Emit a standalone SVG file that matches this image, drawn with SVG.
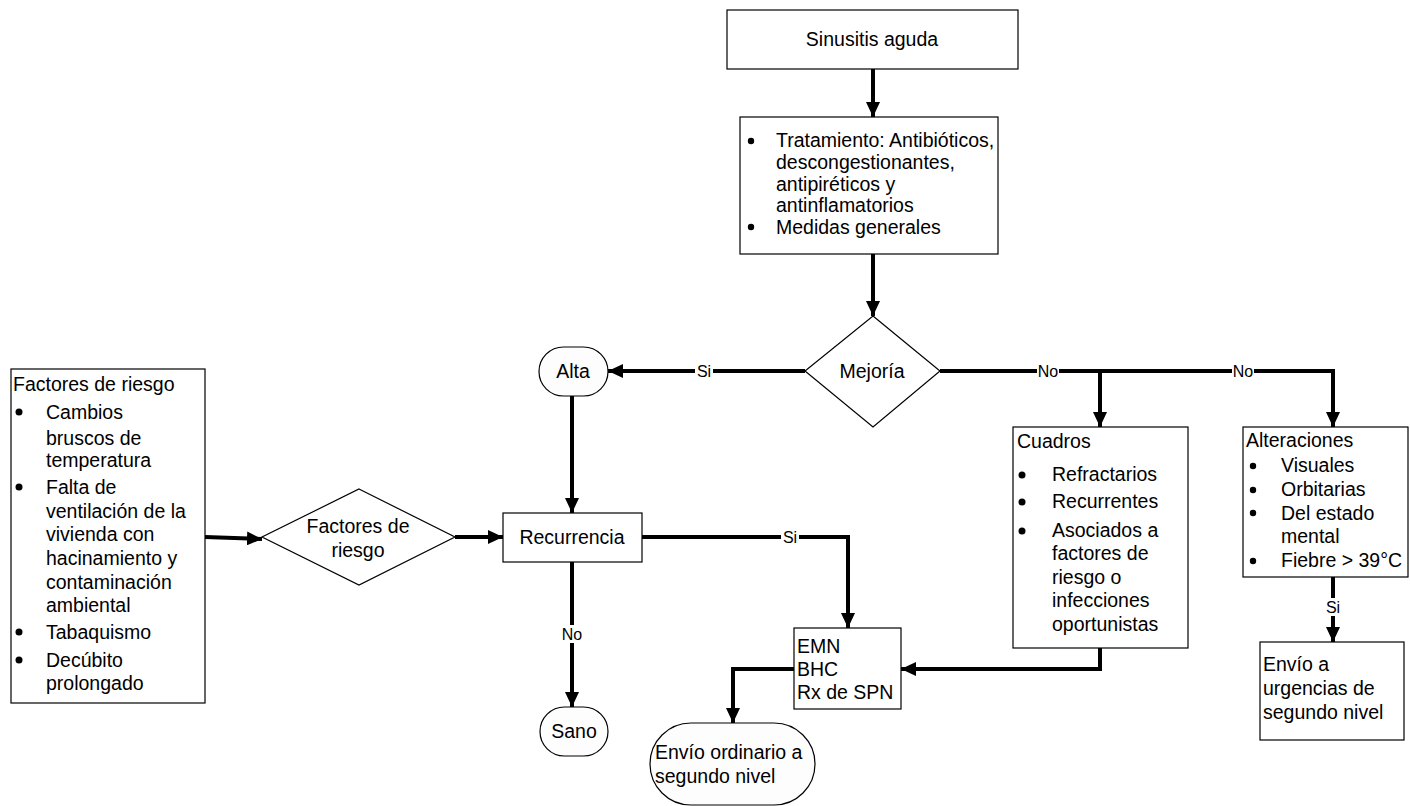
<svg xmlns="http://www.w3.org/2000/svg" width="1410" height="806" viewBox="0 0 1410 806">
<defs>
<marker id="ah" markerUnits="userSpaceOnUse" markerWidth="15" markerHeight="14" refX="15" refY="7" orient="auto">
<path d="M0,0 L15,7 L0,14 z" fill="#000"/>
</marker>
<style>
.box{fill:#fff;stroke:#000;stroke-width:1.2}
.term{fill:#fdfdfd;stroke:#000;stroke-width:1.2}
.t{font-family:"Liberation Sans",Arial,sans-serif;font-size:19.5px;fill:#000}
.c{text-anchor:middle}
.lbl{font-family:"Liberation Sans",Arial,sans-serif;font-size:16px;fill:#000;text-anchor:middle}
.ln{fill:none;stroke:#000;stroke-width:4}
.a{marker-end:url(#ah)}
.lb{fill:#fff}
</style>
</defs>
<rect width="1410" height="806" fill="#fff"/>

<g id="connectors">
<path class="ln a" d="M873,69 V117"/>
<path class="ln a" d="M873,254 V316"/>
<path class="ln a" d="M805,371 H608"/>
<path class="ln a" d="M940,371 H1100 V427"/>
<path class="ln a" d="M1100,371 H1333 V427"/>
<path class="ln a" d="M572,396 V513"/>
<path class="ln a" d="M205,537 L262,539"/>
<path class="ln a" d="M455,537 H503"/>
<path class="ln a" d="M572,562 V707"/>
<path class="ln a" d="M642,537 H848 V628"/>
<path class="ln a" d="M1100,648 V669 H901"/>
<path class="ln a" d="M794,669 H733 V723"/>
<path class="ln a" d="M1333,577 V642"/>
<rect class="lb" x="695" y="362" width="18" height="18"/>
<text class="lbl" x="704" y="377">Si</text>
<rect class="lb" x="1037" y="362" width="22" height="18"/>
<text class="lbl" x="1048" y="377">No</text>
<rect class="lb" x="1232" y="362" width="22" height="18"/>
<text class="lbl" x="1243" y="377">No</text>
<rect class="lb" x="781" y="528" width="18" height="18"/>
<text class="lbl" x="790" y="543">Si</text>
<rect class="lb" x="561" y="625" width="22" height="18"/>
<text class="lbl" x="572" y="640">No</text>
<rect class="lb" x="1324" y="598" width="18" height="18"/>
<text class="lbl" x="1333" y="613">Si</text>
</g>

<g id="sinusitis">
<rect class="box" x="727" y="10" width="291" height="59"/>
<text class="t c" x="872" y="46">Sinusitis aguda</text>
</g>

<g id="tratamiento">
<rect class="box" x="740" y="117" width="258" height="137"/>
<circle cx="751" cy="141" r="3.2"/>
<text class="t" x="776" y="147">Tratamiento: Antibióticos,</text>
<text class="t" x="776" y="169">descongestionantes,</text>
<text class="t" x="776" y="191">antipiréticos y</text>
<text class="t" x="776" y="212">antinflamatorios</text>
<circle cx="751" cy="227" r="3.2"/>
<text class="t" x="776" y="234">Medidas generales</text>
</g>

<g id="mejoria">
<polygon class="box" points="873,316 940,371 873,427 805,371"/>
<text class="t c" x="872" y="378">Mejoría</text>
</g>

<g id="alta">
<rect class="term" x="539" y="347" width="69" height="49" rx="24.5"/>
<text class="t c" x="573" y="378">Alta</text>
</g>

<g id="factores-box">
<rect class="box" x="11" y="369" width="194" height="334"/>
<text class="t" x="13" y="391">Factores de riesgo</text>
<circle cx="19" cy="412" r="3.5"/>
<text class="t" x="46" y="419">Cambios</text>
<text class="t" x="46" y="445">bruscos de</text>
<text class="t" x="46" y="467">temperatura</text>
<circle cx="19" cy="487" r="3.5"/>
<text class="t" x="46" y="494">Falta de</text>
<text class="t" x="46" y="518">ventilación de la</text>
<text class="t" x="46" y="541">vivienda con</text>
<text class="t" x="46" y="565">hacinamiento y</text>
<text class="t" x="46" y="589">contaminación</text>
<text class="t" x="46" y="612">ambiental</text>
<circle cx="19" cy="632" r="3.5"/>
<text class="t" x="46" y="639">Tabaquismo</text>
<circle cx="19" cy="660" r="3.5"/>
<text class="t" x="46" y="667">Decúbito</text>
<text class="t" x="46" y="690">prolongado</text>
</g>

<g id="factores-diamond">
<polygon class="box" points="359,489 455,537 359,585 262,537"/>
<text class="t c" x="358" y="533">Factores de</text>
<text class="t c" x="358" y="557">riesgo</text>
</g>

<g id="recurrencia">
<rect class="box" x="503" y="513" width="139" height="49"/>
<text class="t c" x="572" y="544">Recurrencia</text>
</g>

<g id="sano">
<rect class="term" x="540" y="707" width="68" height="49" rx="24.5"/>
<text class="t c" x="574" y="738">Sano</text>
</g>

<g id="emn">
<rect class="box" x="794" y="628" width="107" height="81"/>
<text class="t" x="797" y="653">EMN</text>
<text class="t" x="797" y="676">BHC</text>
<text class="t" x="797" y="699">Rx de SPN</text>
</g>

<g id="envio-ordinario">
<rect class="term" x="650" y="723" width="165" height="82" rx="41"/>
<text class="t" x="655" y="759">Envío ordinario a</text>
<text class="t" x="655" y="783">segundo nivel</text>
</g>

<g id="cuadros">
<rect class="box" x="1013" y="427" width="175" height="221"/>
<text class="t" x="1017" y="448">Cuadros</text>
<circle cx="1022" cy="475" r="3.5"/>
<text class="t" x="1052" y="481">Refractarios</text>
<circle cx="1022" cy="502" r="3.5"/>
<text class="t" x="1052" y="508">Recurrentes</text>
<circle cx="1022" cy="531" r="3.5"/>
<text class="t" x="1052" y="537">Asociados a</text>
<text class="t" x="1052" y="560">factores de</text>
<text class="t" x="1052" y="584">riesgo o</text>
<text class="t" x="1052" y="607">infecciones</text>
<text class="t" x="1052" y="631">oportunistas</text>
</g>

<g id="alteraciones">
<rect class="box" x="1243" y="427" width="165" height="150"/>
<text class="t" x="1246" y="447">Alteraciones</text>
<circle cx="1253" cy="466" r="3.2"/>
<text class="t" x="1281" y="472">Visuales</text>
<circle cx="1253" cy="490" r="3.2"/>
<text class="t" x="1281" y="496">Orbitarias</text>
<circle cx="1253" cy="513" r="3.2"/>
<text class="t" x="1281" y="520">Del estado</text>
<text class="t" x="1281" y="543">mental</text>
<circle cx="1253" cy="561" r="3.2"/>
<text class="t" x="1281" y="567">Fiebre &gt; 39°C</text>
</g>

<g id="envio-urgencias">
<rect class="box" x="1260" y="642" width="144" height="98"/>
<text class="t" x="1263" y="671">Envío a</text>
<text class="t" x="1263" y="695">urgencias de</text>
<text class="t" x="1263" y="719">segundo nivel</text>
</g>
</svg>
